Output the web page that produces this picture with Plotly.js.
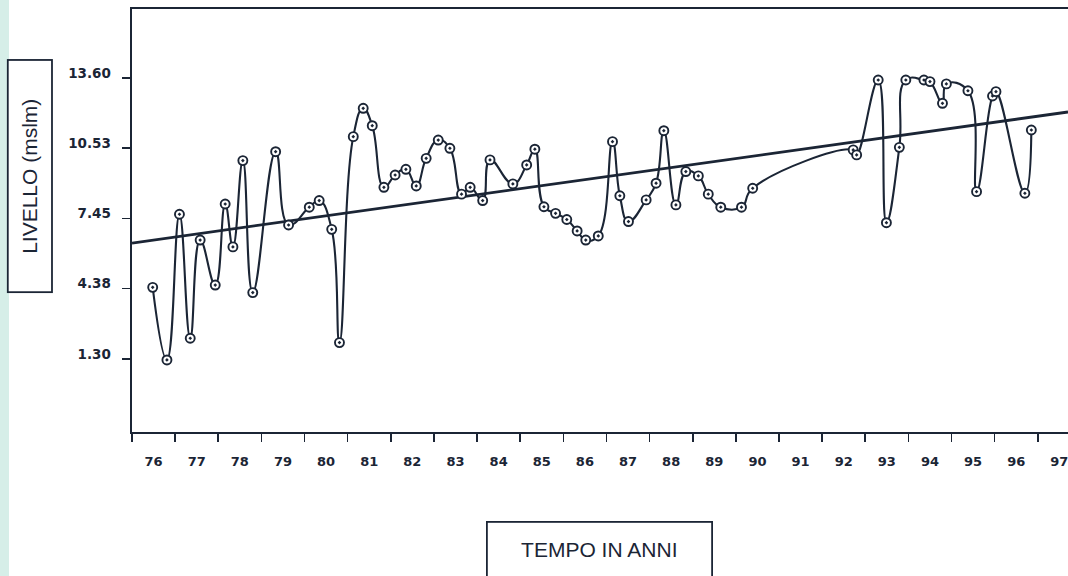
<!DOCTYPE html>
<html><head><meta charset="utf-8">
<script src="https://cdn.plot.ly/plotly-3.0.1.min.js"></script>
<style>html,body{margin:0;padding:0;background:#fff}#chart{width:1068px;height:576px}</style>
</head><body><div id="chart"></div>
<script>
// Observed water level (mslm) by time (years, decimal)
const years = [76.48,76.81,77.10,77.35,77.58,77.93,78.16,78.34,78.57,78.80,
  79.33,79.63,80.11,80.34,80.63,80.81,81.13,81.36,81.57,81.84,
  82.10,82.35,82.59,82.82,83.10,83.37,83.64,83.84,84.13,84.30,
  84.83,85.15,85.34,85.55,85.82,86.08,86.32,86.52,86.81,87.14,
  87.31,87.51,87.92,88.15,88.33,88.61,88.84,89.13,89.36,89.65,
  90.13,90.39,92.72,92.80,93.30,93.49,93.79,93.94,94.36,94.50,
  94.79,94.88,95.38,95.58,95.95,96.03,96.70,96.85];
const levels = [4.43,1.25,7.63,2.20,6.50,4.53,8.08,6.20,9.98,4.20,
  10.37,7.16,7.94,8.23,6.97,2.01,11.03,12.27,11.51,8.81,
  9.35,9.60,8.87,10.08,10.88,10.52,8.51,8.81,8.23,10.01,
  8.96,9.79,10.48,7.96,7.67,7.40,6.90,6.50,6.68,10.81,
  8.44,7.31,8.26,8.99,11.29,8.04,9.50,9.31,8.51,7.94,
  7.94,8.77,10.45,10.23,13.51,7.26,10.56,13.51,13.51,13.44,
  12.49,13.34,13.04,8.62,12.81,13.00,8.55,11.32];
// Linear trend line end values
const trendYears = [76, 97.7];
const trendLevels = [6.37, 12.11];
// Axis tick labels
const yTickVals = [1.30, 4.38, 7.45, 10.53, 13.60];
const yTickText = ["1.30", "4.38", "7.45", "10.53", "13.60"];
const xTickLabels = ["76","77","78","79","80","81","82","83","84","85","86",
  "87","88","89","90","91","92","93","94","95","96","97"];

const ink = '#1b2535';
const xLabelPos = xTickLabels.map(s => Number(s) + 0.5);
const xBoundaries = xTickLabels.map(s => Number(s));

const traces = [
  {x: trendYears, y: trendLevels, mode: 'lines', type: 'scatter',
   line: {color: ink, width: 2.8}, hoverinfo: 'skip'},
  {x: years, y: levels, mode: 'lines+markers', type: 'scatter',
   line: {color: ink, width: 2.1, shape: 'spline', smoothing: 1.3},
   marker: {symbol: 'circle-dot', size: 9, color: '#ffffff', line: {color: ink, width: 1.9}}}
];

const layout = {
  width: 1068, height: 576,
  margin: {l: 132, r: 0, t: 9, b: 144},
  paper_bgcolor: '#ffffff', plot_bgcolor: '#ffffff',
  showlegend: false,
  font: {family: 'DejaVu Sans', color: ink},
  xaxis: {
    range: [76, 97.7], showgrid: false, zeroline: false,
    showline: true, linecolor: ink, linewidth: 2.4, mirror: true,
    tickmode: 'array', tickvals: xLabelPos, ticktext: xTickLabels,
    ticks: '', ticklabelstandoff: 16, ticklabeloverflow: 'allow',
    tickfont: {family: 'DejaVu Sans', size: 13, weight: 'bold', color: ink},
    minor: {tickmode: 'array', tickvals: xBoundaries, ticks: 'outside', ticklen: 8,
            tickwidth: 1.6, tickcolor: ink, showgrid: false}
  },
  yaxis: {
    range: [-1.906, 16.62], showgrid: false, zeroline: false,
    showline: true, linecolor: ink, linewidth: 2.4,
    tickmode: 'array', tickvals: yTickVals, ticktext: yTickText,
    ticks: 'outside', ticklen: 8, tickwidth: 1.6, tickcolor: ink,
    ticklabelshift: -5, ticklabelstandoff: 8,
    tickfont: {family: 'DejaVu Sans', size: 13.5, weight: 'bold', color: ink}
  },
  shapes: [
    {type: 'rect', xref: 'paper', yref: 'paper', x0: -0.1410, x1: -0.1314, y0: -0.35, y1: 1.05,
     fillcolor: 'rgb(214,238,232)', line: {width: 0}, layer: 'below'}
  ],
  annotations: [
    {text: 'LIVELLO (mslm)', textangle: -90, xref: 'paper', yref: 'paper',
     x: -0.109, y: 0.605, xanchor: 'center', yanchor: 'middle', showarrow: false,
     width: 228, height: 40, bordercolor: ink, borderwidth: 1.8, bgcolor: '#ffffff',
     font: {family: 'Liberation Sans', size: 21, color: ink}},
    {text: 'TEMPO IN ANNI', xref: 'paper', yref: 'paper',
     x: 0.4995, y: -0.279, xanchor: 'center', yanchor: 'middle', showarrow: false,
     width: 221, height: 52, bordercolor: ink, borderwidth: 1.8, bgcolor: '#ffffff',
     font: {family: 'Liberation Sans', size: 21, color: ink}}
  ]
};

Plotly.newPlot('chart', traces, layout, {displayModeBar: false, staticPlot: true});
</script></body></html>
